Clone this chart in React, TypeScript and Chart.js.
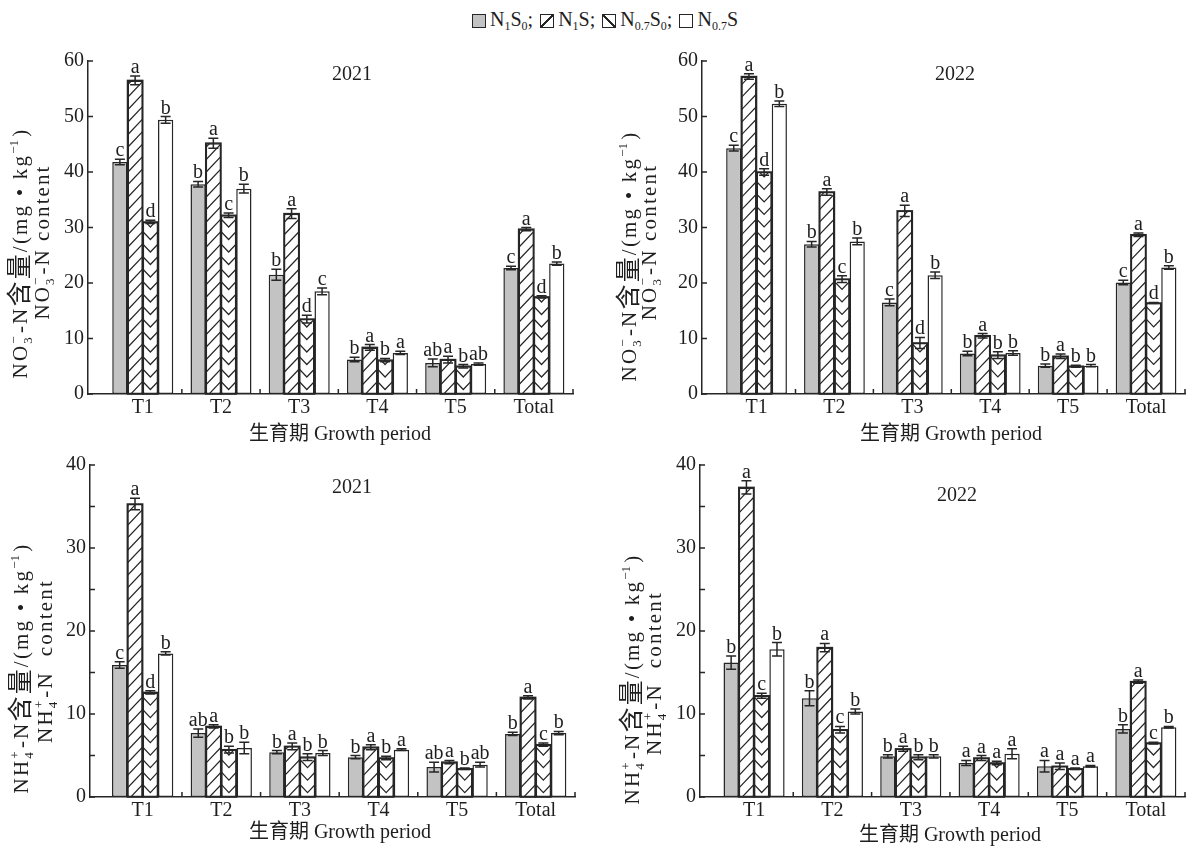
import React, { useEffect, useRef } from 'react';
import { Chart, registerables } from 'chart.js';
Chart.register(...registerables);

const categories = ['T1', 'T2', 'T3', 'T4', 'T5', 'Total'];
const seriesNames = ['N1S0', 'N1S', 'N0.7S0', 'N0.7S'];

// NO3--N, 2021
const no3_2021_N1S0 = [41.8, 37.8, 21.5, 6.2, 5.6, 22.7];
const no3_2021_N1S = [56.5, 45.2, 32.5, 8.4, 6.2, 29.7];
const no3_2021_N07S0 = [31.0, 32.2, 13.5, 6.1, 5.0, 17.5];
const no3_2021_N07S = [49.4, 37.0, 18.5, 7.4, 5.4, 23.5];
const no3_2021_err_N1S0 = [0.5, 0.5, 1.0, 0.4, 0.7, 0.3];
const no3_2021_err_N1S = [0.8, 0.9, 0.9, 0.5, 0.6, 0.3];
const no3_2021_err_N07S0 = [0.3, 0.4, 0.7, 0.3, 0.3, 0.2];
const no3_2021_err_N07S = [0.6, 0.8, 0.6, 0.3, 0.2, 0.3];
const no3_2021_sig_N1S0 = ['c', 'b', 'b', 'b', 'ab', 'c'];
const no3_2021_sig_N1S = ['a', 'a', 'a', 'a', 'a', 'a'];
const no3_2021_sig_N07S0 = ['d', 'c', 'd', 'b', 'b', 'd'];
const no3_2021_sig_N07S = ['b', 'b', 'c', 'a', 'ab', 'b'];

// NO3--N, 2022
const no3_2022_N1S0 = [44.3, 27.0, 16.5, 7.3, 5.1, 20.1];
const no3_2022_N1S = [57.2, 36.4, 33.0, 10.5, 6.8, 28.7];
const no3_2022_N07S0 = [40.0, 20.7, 9.2, 7.0, 5.0, 16.4];
const no3_2022_N07S = [52.3, 27.5, 21.4, 7.4, 5.1, 22.8];
const no3_2022_err_N1S0 = [0.5, 0.5, 0.6, 0.4, 0.3, 0.4];
const no3_2022_err_N1S = [0.5, 0.6, 1.0, 0.4, 0.4, 0.3];
const no3_2022_err_N07S0 = [0.6, 0.6, 1.0, 0.6, 0.2, 0.1];
const no3_2022_err_N07S = [0.5, 0.6, 0.6, 0.4, 0.2, 0.3];
const no3_2022_sig_N1S0 = ['c', 'b', 'c', 'b', 'b', 'c'];
const no3_2022_sig_N1S = ['a', 'a', 'a', 'a', 'a', 'a'];
const no3_2022_sig_N07S0 = ['d', 'c', 'd', 'b', 'b', 'd'];
const no3_2022_sig_N07S = ['b', 'b', 'b', 'b', 'b', 'b'];

// NH4+-N, 2021
const nh4_2021_N1S0 = [15.9, 7.7, 5.4, 4.8, 3.6, 7.6];
const nh4_2021_N1S = [35.3, 8.5, 6.1, 6.0, 4.2, 12.0];
const nh4_2021_N07S0 = [12.6, 5.7, 4.8, 4.7, 3.4, 6.3];
const nh4_2021_N07S = [17.3, 5.9, 5.3, 5.7, 3.9, 7.7];
const nh4_2021_err_N1S0 = [0.4, 0.5, 0.2, 0.2, 0.6, 0.2];
const nh4_2021_err_N1S = [0.7, 0.2, 0.4, 0.3, 0.2, 0.2];
const nh4_2021_err_N07S0 = [0.2, 0.4, 0.4, 0.2, 0.1, 0.2];
const nh4_2021_err_N07S = [0.2, 0.7, 0.3, 0.1, 0.3, 0.2];
const nh4_2021_sig_N1S0 = ['c', 'ab', 'b', 'b', 'ab', 'b'];
const nh4_2021_sig_N1S = ['a', 'a', 'a', 'a', 'a', 'a'];
const nh4_2021_sig_N07S0 = ['d', 'b', 'b', 'b', 'b', 'c'];
const nh4_2021_sig_N07S = ['b', 'b', 'b', 'a', 'ab', 'b'];

// NH4+-N, 2022
const nh4_2022_N1S0 = [16.2, 11.9, 4.9, 4.1, 3.7, 8.2];
const nh4_2022_N1S = [37.3, 18.0, 5.8, 4.7, 3.7, 13.9];
const nh4_2022_N07S0 = [12.2, 8.1, 4.8, 4.1, 3.4, 6.5];
const nh4_2022_N07S = [17.8, 10.3, 4.9, 5.2, 3.7, 8.4];
const nh4_2022_err_N1S0 = [0.8, 0.9, 0.2, 0.3, 0.7, 0.5];
const nh4_2022_err_N1S = [0.8, 0.5, 0.3, 0.3, 0.4, 0.2];
const nh4_2022_err_N07S0 = [0.3, 0.4, 0.3, 0.2, 0.1, 0.1];
const nh4_2022_err_N07S = [0.8, 0.3, 0.2, 0.6, 0.1, 0.1];
const nh4_2022_sig_N1S0 = ['b', 'b', 'b', 'a', 'a', 'b'];
const nh4_2022_sig_N1S = ['a', 'a', 'a', 'a', 'a', 'a'];
const nh4_2022_sig_N07S0 = ['c', 'c', 'b', 'a', 'a', 'c'];
const nh4_2022_sig_N07S = ['b', 'b', 'b', 'a', 'a', 'b'];

const INK = '#262626';
const TXT = '#1e1e1e';
const GRAY = '#c3c3c3';
const FAM = "'Liberation Serif', 'Noto Sans CJK SC', serif";

type Seg = { t?: string; sub?: string; sup?: string };

const no3Line1: Seg[] = [{ t: 'NO' }, { sub: '3', sup: '−' }, { t: '-N含量/(mg • kg' }, { sup: '−1' }, { t: ')' }];
const no3Line2: Seg[] = [{ t: 'NO' }, { sub: '3', sup: '−' }, { t: '-N content' }];
const nh4Line1: Seg[] = [{ t: 'NH' }, { sub: '4', sup: '+' }, { t: '-N含量/(mg • kg' }, { sup: '−1' }, { t: ')' }];
const nh4Line2: Seg[] = [{ t: 'NH' }, { sub: '4', sup: '+' }, { t: '-N  content' }];

interface Panel {
  key: string;
  box: [number, number, number, number];
  area: { left: number; right: number; top: number; bottom: number };
  xMin: number;
  yMax: number;
  yStep: number;
  yLabelStep: number;
  series: number[][];
  errs: number[][];
  sigs: string[][];
  year: string;
  yearPos: [number, number];
  xTitlePos: [number, number];
  yt1: Seg[];
  yt2: Seg[];
  yt1Pos: [number, number, number];
  yt2Pos: [number, number, number];
}

const panels: Panel[] = [
  {
    key: 'tl', box: [0, 35, 600, 420],
    area: { left: 88, right: 573, top: 61, bottom: 394 },
    xMin: -0.7, yMax: 60, yStep: 10, yLabelStep: 10,
    series: [no3_2021_N1S0, no3_2021_N1S, no3_2021_N07S0, no3_2021_N07S],
    errs: [no3_2021_err_N1S0, no3_2021_err_N1S, no3_2021_err_N07S0, no3_2021_err_N07S],
    sigs: [no3_2021_sig_N1S0, no3_2021_sig_N1S, no3_2021_sig_N07S0, no3_2021_sig_N07S],
    year: '2021', yearPos: [352, 75], xTitlePos: [340, 435],
    yt1: no3Line1, yt2: no3Line2, yt1Pos: [20, 253, 263], yt2Pos: [42, 242, 155],
  },
  {
    key: 'tr', box: [600, 35, 596, 420],
    area: { left: 702, right: 1185, top: 61, bottom: 394 },
    xMin: -0.7, yMax: 60, yStep: 10, yLabelStep: 10,
    series: [no3_2022_N1S0, no3_2022_N1S, no3_2022_N07S0, no3_2022_N07S],
    errs: [no3_2022_err_N1S0, no3_2022_err_N1S, no3_2022_err_N07S0, no3_2022_err_N07S],
    sigs: [no3_2022_sig_N1S0, no3_2022_sig_N1S, no3_2022_sig_N07S0, no3_2022_sig_N07S],
    year: '2022', yearPos: [955, 75], xTitlePos: [951, 435],
    yt1: no3Line1, yt2: no3Line2, yt1Pos: [629, 256, 275], yt2Pos: [649, 242, 160],
  },
  {
    key: 'bl', box: [0, 440, 600, 411],
    area: { left: 90, right: 575, top: 465, bottom: 797 },
    xMin: -0.67, yMax: 40, yStep: 5, yLabelStep: 10,
    series: [nh4_2021_N1S0, nh4_2021_N1S, nh4_2021_N07S0, nh4_2021_N07S],
    errs: [nh4_2021_err_N1S0, nh4_2021_err_N1S, nh4_2021_err_N07S0, nh4_2021_err_N07S],
    sigs: [nh4_2021_sig_N1S0, nh4_2021_sig_N1S, nh4_2021_sig_N07S0, nh4_2021_sig_N07S],
    year: '2021', yearPos: [352, 488], xTitlePos: [340, 833],
    yt1: nh4Line1, yt2: nh4Line2, yt1Pos: [21, 668, 285], yt2Pos: [45, 661, 195],
  },
  {
    key: 'br', box: [600, 440, 596, 411],
    area: { left: 700, right: 1185, top: 465, bottom: 797 },
    xMin: -0.69, yMax: 40, yStep: 5, yLabelStep: 10,
    series: [nh4_2022_N1S0, nh4_2022_N1S, nh4_2022_N07S0, nh4_2022_N07S],
    errs: [nh4_2022_err_N1S0, nh4_2022_err_N1S, nh4_2022_err_N07S0, nh4_2022_err_N07S],
    sigs: [nh4_2022_sig_N1S0, nh4_2022_sig_N1S, nh4_2022_sig_N07S0, nh4_2022_sig_N07S],
    year: '2022', yearPos: [957, 496], xTitlePos: [950, 836],
    yt1: nh4Line1, yt2: nh4Line2, yt1Pos: [632, 679, 285], yt2Pos: [654, 673, 200],
  },
];

function isCJK(ch: string) {
  return ch.codePointAt(0)! >= 0x2e80;
}

function drawRich(ctx: CanvasRenderingContext2D, segs: Seg[], cx: number, cy: number, size: number, len: number) {
  const small = Math.round(size * 0.6);
  const cjkSize = size + 4;
  type Item = { ch: string; font: string; dy: number; w: number };
  const items: Item[] = [];
  segs.forEach((s) => {
    if (s.t !== undefined) {
      Array.from(s.t).forEach((ch) => {
        const font = `${isCJK(ch) ? cjkSize : size}px ${FAM}`;
        ctx.font = font;
        items.push({ ch, font, dy: isCJK(ch) ? 1 : 0, w: ctx.measureText(ch).width });
      });
    } else {
      const font = `${small}px ${FAM}`;
      ctx.font = font;
      const a = s.sub ? ctx.measureText(s.sub).width : 0;
      const b = s.sup ? ctx.measureText(s.sup).width : 0;
      const w = Math.max(a, b) + 1;
      if (s.sub) items.push({ ch: s.sub, font, dy: size * 0.22, w: 0 });
      if (s.sup) items.push({ ch: s.sup, font, dy: -size * 0.42, w: 0 });
      items[items.length - 1].w = w;
    }
  });
  const natural = items.reduce((a, it) => a + it.w, 0);
  const nAdv = items.filter((it) => it.w > 0).length;
  const ls = Math.min(2.2, Math.max(0, (len - natural) / nAdv));
  const total = natural + ls * nAdv;
  ctx.save();
  ctx.translate(cx, cy);
  ctx.rotate(-Math.PI / 2);
  ctx.fillStyle = TXT;
  ctx.textAlign = 'left';
  ctx.textBaseline = 'alphabetic';
  const base = size * 0.34;
  let x = -total / 2;
  items.forEach((it) => {
    ctx.font = it.font;
    ctx.fillText(it.ch, x, base + it.dy);
    if (it.w > 0) x += it.w + ls;
  });
  ctx.restore();
}

function makePlugin(p: Panel) {
  const ox = p.box[0];
  const oy = p.box[1];
  return {
    id: 'custom_' + p.key,
    afterDatasetsDraw(chart: any) {
      const ctx: CanvasRenderingContext2D = chart.ctx;
      const ys = chart.scales.y;
      const xs = chart.scales.x;
      const ca = chart.chartArea;
      ctx.save();
      // hatch patterns
      [1, 2].forEach((di) => {
        const meta = chart.getDatasetMeta(di);
        meta.data.forEach((el: any) => {
          const q = el.getProps(['x', 'y', 'base', 'width'], true);
          const l = q.x - q.width / 2;
          const r = q.x + q.width / 2;
          const t = Math.min(q.y, q.base);
          const b = Math.max(q.y, q.base);
          const w = r - l;
          const sp = 12.5;
          ctx.save();
          ctx.beginPath();
          ctx.rect(l, t, w, b - t);
          ctx.clip();
          ctx.strokeStyle = INK;
          ctx.lineWidth = 1.2;
          ctx.beginPath();
          if (di === 1) {
            const k = w * 1.05;
            for (let y0 = b + k; y0 > t - sp; y0 -= sp) {
              ctx.moveTo(l, y0);
              ctx.lineTo(r, y0 - k);
            }
          } else {
            const h = (w / 2) * 1.05;
            const cx = (l + r) / 2;
            for (let y0 = b + sp; y0 > t - h - sp; y0 -= sp) {
              ctx.moveTo(l, y0);
              ctx.lineTo(cx, y0 + h);
              ctx.lineTo(r, y0);
            }
          }
          ctx.stroke();
          ctx.restore();
          ctx.strokeStyle = INK;
          ctx.lineWidth = 1.5;
          ctx.strokeRect(l, t, w, b - t);
        });
      });
      // error bars + letters
      ctx.font = `20px ${FAM}`;
      ctx.fillStyle = TXT;
      ctx.textAlign = 'center';
      ctx.textBaseline = 'alphabetic';
      p.series.forEach((vals, di) => {
        const meta = chart.getDatasetMeta(di);
        meta.data.forEach((el: any, i: number) => {
          const x = el.x;
          const v = vals[i];
          const e = p.errs[di][i];
          const yt = ys.getPixelForValue(v + e);
          const yb = ys.getPixelForValue(v - e);
          ctx.strokeStyle = INK;
          ctx.lineWidth = 1.5;
          ctx.beginPath();
          ctx.moveTo(x, yt);
          ctx.lineTo(x, yb);
          ctx.moveTo(x - 5, yt);
          ctx.lineTo(x + 5, yt);
          ctx.moveTo(x - 5, yb);
          ctx.lineTo(x + 5, yb);
          ctx.stroke();
          ctx.fillText(p.sigs[di][i], x, Math.min(yt, el.y) - 3);
        });
      });
      // inward ticks
      ctx.strokeStyle = INK;
      ctx.lineWidth = 1.5;
      ctx.beginPath();
      ys.ticks.forEach((tk: any) => {
        const y = ys.getPixelForValue(tk.value);
        ctx.moveTo(ca.left, y);
        ctx.lineTo(ca.left + 5, y);
      });
      for (let bnd = 0.5; bnd <= 5.5; bnd += 1) {
        const x = xs.getPixelForValue(bnd);
        ctx.moveTo(x, ca.bottom);
        ctx.lineTo(x, ca.bottom - 5);
      }
      ctx.stroke();
      // year title
      ctx.font = `20px ${FAM}`;
      ctx.textAlign = 'center';
      ctx.textBaseline = 'middle';
      ctx.fillStyle = TXT;
      ctx.fillText(p.year, p.yearPos[0] - ox, p.yearPos[1] - oy);
      // x title
      ctx.fillText('生育期 Growth period', p.xTitlePos[0] - ox, p.xTitlePos[1] - oy);
      // y titles
      drawRich(ctx, p.yt1, p.yt1Pos[0] - ox, p.yt1Pos[1] - oy, 21, p.yt1Pos[2]);
      drawRich(ctx, p.yt2, p.yt2Pos[0] - ox, p.yt2Pos[1] - oy, 21, p.yt2Pos[2]);
      ctx.restore();
    },
  };
}

function PanelChart({ p }: { p: Panel }) {
  const ref = useRef<HTMLCanvasElement | null>(null);
  useEffect(() => {
    if (!ref.current) return;
    const [bx, by, bw, bh] = p.box;
    const relLeft = p.area.left - bx;
    const relRight = p.area.right - bx;
    const relTop = p.area.top - by;
    const relBottom = p.area.bottom - by;
    const yW = 40;
    const chart = new Chart(ref.current, {
      type: 'bar',
      data: {
        datasets: p.series.map((vals, k) => ({
          label: seriesNames[k],
          data: vals.map((v, i) => ({ x: i, y: v })),
          backgroundColor: k === 0 ? GRAY : '#ffffff',
          borderColor: INK,
          borderWidth: 1.5,
          borderSkipped: false,
          categoryPercentage: 0.78,
          barPercentage: 1,
        })),
      } as any,
      options: {
        responsive: false,
        animation: false,
        events: [],
        layout: { padding: { left: relLeft - yW, right: bw - relRight, top: relTop, bottom: 0 } },
        plugins: { legend: { display: false }, tooltip: { enabled: false }, title: { display: false } },
        scales: {
          x: {
            type: 'linear',
            min: p.xMin,
            max: 5.5,
            offset: false,
            grid: { display: false, drawTicks: false },
            border: { display: true, color: INK, width: 1.5 },
            ticks: {
              autoSkip: false,
              maxRotation: 0,
              minRotation: 0,
              padding: 2,
              color: TXT,
              font: { family: FAM, size: 20 },
              callback: (v: any) => categories[v] ?? '',
            },
            afterBuildTicks: (s: any) => {
              s.ticks = categories.map((_, i) => ({ value: i }));
            },
            afterFit: (s: any) => {
              s.height = bh - relBottom;
            },
          },
          y: {
            type: 'linear',
            min: 0,
            max: p.yMax,
            grid: { display: false, drawTicks: false },
            border: { display: true, color: INK, width: 1.5 },
            ticks: {
              stepSize: p.yStep,
              padding: 4,
              color: TXT,
              font: { family: FAM, size: 20 },
              callback: (v: any) => (v % p.yLabelStep === 0 ? String(v) : ''),
            },
            afterFit: (s: any) => {
              s.width = yW;
            },
          },
        },
      } as any,
      plugins: [makePlugin(p)],
    });
    return () => chart.destroy();
  }, [p]);
  const [bx, by, bw, bh] = p.box;
  return (
    <canvas
      ref={ref}
      width={bw}
      height={bh}
      style={{ position: 'absolute', left: bx, top: by, width: bw, height: bh, display: 'block' }}
    />
  );
}

const boxBase: React.CSSProperties = {
  display: 'inline-block',
  width: 12,
  height: 12,
  border: `1.5px solid ${INK}`,
  marginRight: 4,
  background: '#fff',
};
const subStyle: React.CSSProperties = { fontSize: 12, position: 'relative', top: 4 };

function Legend() {
  return (
    <div
      style={{
        position: 'absolute',
        left: 472,
        top: 9,
        display: 'flex',
        alignItems: 'center',
        fontFamily: FAM,
        fontSize: 20,
        lineHeight: '20px',
        color: TXT,
        whiteSpace: 'nowrap',
      }}
    >
      <span style={{ ...boxBase, background: GRAY }} />
      <span style={{ marginRight: 7 }}>
        N<span style={subStyle}>1</span>S<span style={subStyle}>0</span>;
      </span>
      <span
        style={{
          ...boxBase,
          background: `linear-gradient(to bottom right, transparent calc(50% - 0.9px), ${INK} calc(50% - 0.9px), ${INK} calc(50% + 0.9px), transparent calc(50% + 0.9px))`,
        }}
      />
      <span style={{ marginRight: 7 }}>
        N<span style={subStyle}>1</span>S;
      </span>
      <span
        style={{
          ...boxBase,
          background: `linear-gradient(to top right, transparent calc(50% - 0.9px), ${INK} calc(50% - 0.9px), ${INK} calc(50% + 0.9px), transparent calc(50% + 0.9px))`,
        }}
      />
      <span style={{ marginRight: 7 }}>
        N<span style={subStyle}>0.7</span>S<span style={subStyle}>0</span>;
      </span>
      <span style={boxBase} />
      <span>
        N<span style={subStyle}>0.7</span>S
      </span>
    </div>
  );
}

export default function App() {
  return (
    <div
      style={{
        position: 'absolute',
        left: 0,
        top: 0,
        width: 1196,
        height: 851,
        background: '#ffffff',
        overflow: 'hidden',
      }}
    >
      <Legend />
      {panels.map((p) => (
        <PanelChart key={p.key} p={p} />
      ))}
    </div>
  );
}
